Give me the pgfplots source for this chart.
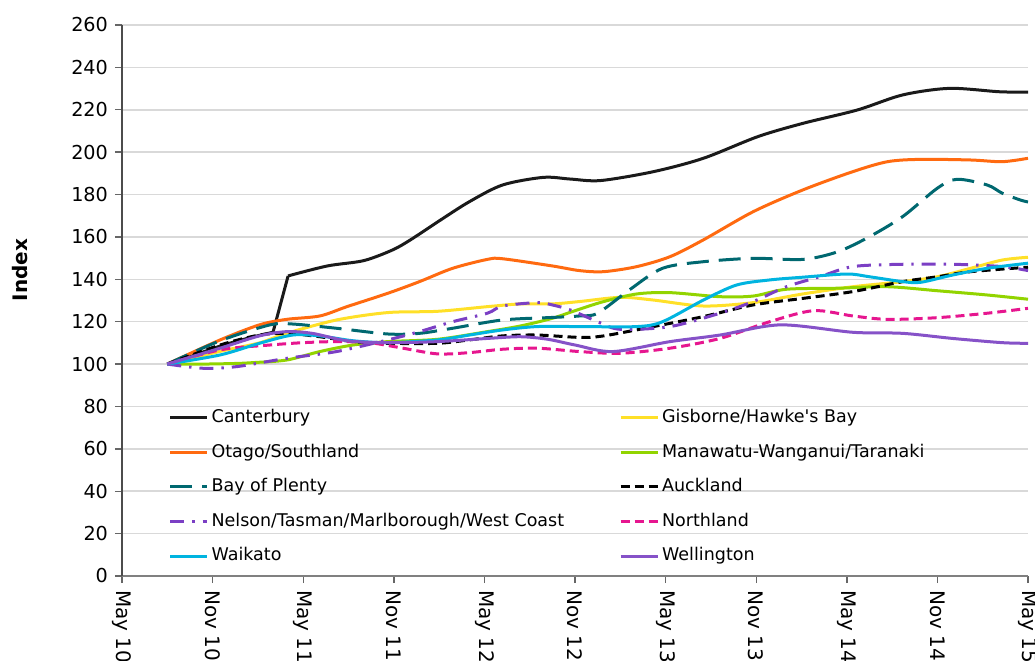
\documentclass[border=0pt]{standalone}
\usepackage{fontspec}
\setmainfont{DejaVu Sans}
\usepackage{pgfplots}
\pgfplotsset{compat=1.18}
\definecolor{cCant}{HTML}{1A1A1A}
\definecolor{cGis}{HTML}{FFE028}
\definecolor{cOta}{HTML}{FF6A10}
\definecolor{cMan}{HTML}{92D400}
\definecolor{cBop}{HTML}{006870}
\definecolor{cAuck}{HTML}{000000}
\definecolor{cNel}{HTML}{7B3FC4}
\definecolor{cNor}{HTML}{E6168F}
\definecolor{cWai}{HTML}{00B4E0}
\definecolor{cWel}{HTML}{8652C8}
\begin{document}
\begin{tikzpicture}
\begin{axis}[
  name=ax,
  at={(0pt,0pt)}, anchor=south west,
  scale only axis,
  width=453pt, height=275.5pt,
  xmin=0, xmax=60, ymin=0, ymax=260,
  xtick={0,6,...,60},
  xticklabels={May 10,Nov 10,May 11,Nov 11,May 12,Nov 12,May 13,Nov 13,May 14,Nov 14,May 15},
  ytick={0,20,...,260},
  /pgf/number format/assume math mode=true,
  ticklabel style={font=\fontsize{9.6}{11}\selectfont, text=black},
  xticklabel style={rotate=-90, anchor=west, font=\fontsize{10}{12}\selectfont},
  axis x line*=bottom, axis y line*=left,
  x axis line style={black!50, line width=1pt, -},
  y axis line style={black!70, line width=0.7pt, -},
  tick align=outside,
  major tick length=3.5pt,
  every tick/.style={black!60, line width=0.7pt},
  ymajorgrids,
  major grid style={black!15, line width=0.8pt},
  ylabel={\textbf{Index}},
  ylabel style={font=\fontsize{10}{12}\selectfont, at={(axis description cs:-0.1126,0.555)}, anchor=center, rotate=0},
  legend columns=2,
  legend cell align=left,
  legend image code/.code={\draw[#1] (0pt,0pt) -- (18.5pt,0pt);},
  legend style={draw=none, fill=none, at={(0.051,0.303)}, anchor=north west,
    font=\fontsize{8.75}{10}\selectfont, inner sep=0pt, row sep=9pt,
    nodes={inner sep=0pt, text height=6.5pt, text depth=1.8pt},
    /tikz/every odd column/.append style={column sep=1.5pt},
    /tikz/every even column/.append style={column sep=27.5pt}},
  every axis plot/.append style={line width=1.5pt, line join=round},
]
% Canterbury (three pieces: smooth, jump, smooth)
\addplot[cCant, smooth] coordinates {(3,100)(4.5,103.5)(6.5,108.5)(8.5,112.5)(10,115)};
\addlegendentry{Canterbury}
\addplot[cCant, forget plot] coordinates {(10,115)(11,141.6)};
\addplot[cCant, smooth, forget plot] coordinates {(11,141.6)(13.6,146.3)(16,148.8)(17.9,153.8)(19.1,158.6)(21.1,168)(23,176.6)(25.2,184.5)(27.9,188.1)(29.7,187.3)(31.7,186.6)(35.2,190.8)(38.5,197.1)(42.1,207.3)(45.1,213.6)(48.7,219.9)(51.7,227)(54.8,230.1)(58.1,228.5)(60,228.3)};
% Gisborne/Hawke's Bay
\addplot[cGis, smooth] coordinates {(3,100)(6.5,106)(9.1,110)(10.9,114.5)(14.2,120.8)(17.6,124.3)(20.9,124.9)(24.2,127.1)(26.4,128.4)(28.5,128.4)(30.3,129.5)(33,131.5)(35.2,130.2)(38.5,127.4)(41.8,129)(45.1,133.1)(48.4,136.5)(51.7,138.9)(54,141.2)(56.2,145.2)(58.3,149.1)(60,150.4)};
\addlegendentry{Gisborne/Hawke\textquotesingle s Bay}
% Otago/Southland
\addplot[cOta, smooth] coordinates {(3,100)(6.5,111.4)(9.1,118.5)(10.9,121.1)(13.1,122.7)(14.9,127.1)(17.6,133.4)(19.7,138.9)(21.9,145.2)(24.2,149.4)(25.2,149.7)(28.5,146.3)(30.3,144.1)(31.9,143.6)(34.1,146)(36.3,150.7)(38.5,158.6)(41.8,171.9)(45.1,182.2)(48.4,190.8)(50.7,195.5)(52.9,196.6)(56.2,196.3)(58.3,195.5)(60,197.1)};
\addlegendentry{Otago/Southland}
% Manawatu-Wanganui/Taranaki
\addplot[cMan, smooth] coordinates {(3,100)(5.4,100)(7.6,100.3)(8.7,100.7)(10.9,101.9)(13.1,105.9)(15.3,109)(17.6,110.6)(20.9,111.7)(24.2,115.3)(26.4,118)(28.5,121.6)(30,125.2)(31.9,129.5)(34.1,133.1)(36.3,133.7)(39.6,131.8)(41.8,132.1)(44,135.3)(47.4,135.8)(50.7,136.5)(54,134.6)(57.3,132.6)(60,130.6)};
\addlegendentry{Manawatu-Wanganui/Taranaki}
% Bay of Plenty
\addplot[cBop, smooth, dash pattern=on 11pt off 5pt] coordinates {(3,100)(6.5,111)(9.8,118.5)(11.3,118.9)(14.2,116.9)(17.6,114.2)(19.7,114.5)(21.9,116.9)(25.2,120.8)(28.5,122)(30.3,122.7)(31.5,124)(33.6,135)(35.8,145.2)(38.5,148.3)(41.8,149.9)(45.1,149.4)(47.4,153)(49.5,160.1)(51.7,169.6)(54,183)(55.3,187.2)(57.3,184.5)(58.3,180.6)(59.5,177.4)(60,176.5)};
\addlegendentry{Bay of Plenty}
% Auckland
\addplot[cAuck, smooth, dash pattern=on 4.5pt off 2.5pt] coordinates {(3,100)(6.5,109)(9.1,113.7)(10.9,114.5)(13.1,112.9)(15.3,110.6)(17.6,109.8)(20.9,109.8)(23,111.4)(25.2,113.3)(27.5,113.7)(30.3,112.6)(31.9,113.3)(35.2,117.7)(38.5,122.4)(41.8,127.9)(45.1,131)(48.4,134.2)(51.7,138.9)(54,141.2)(56.2,143.6)(60,145.7)};
\addlegendentry{Auckland}
% Nelson/Tasman/Marlborough/West Coast
\addplot[cNel, smooth, dash pattern=on 7pt off 4pt on 1.2pt off 4pt] coordinates {(3,100)(5.4,98)(7.6,98.8)(10.9,102.7)(14.2,105.9)(17.6,111.4)(19.7,115.3)(21.9,120)(24.2,124)(25.2,127.4)(27.5,129)(28.5,127.9)(29.7,125.5)(31.5,120)(33,116.4)(36.3,117.7)(39.6,124)(41.8,129.5)(44,136.5)(46.2,141.2)(48.4,146)(51.7,147.1)(55,147.1)(58.3,146)(60,144.1)};
\addlegendentry{Nelson/Tasman/Marlborough/West Coast}
% Northland
\addplot[cNor, smooth, dash pattern=on 4.5pt off 2.5pt] coordinates {(3,100)(6.5,106.7)(9.8,109)(12,110.1)(14.2,110.6)(16.4,110.1)(18.6,107.5)(20.9,104.8)(23,105.4)(25.2,107)(27.5,107.5)(30.3,105.9)(33,105.1)(36.3,107.5)(39.6,112.1)(42.9,120)(45.8,125.2)(48.4,122.7)(50.7,121.1)(54,121.9)(57.3,124)(60,126.3)};
\addlegendentry{Northland}
% Waikato
\addplot[cWai, smooth] coordinates {(3,100)(6.5,104.3)(9.1,109.8)(11.3,113.7)(13.1,113.3)(15.3,111)(17.6,110.1)(20.9,111.4)(23,113.7)(25.2,116.1)(27.5,117.7)(30.3,117.7)(34.1,117.7)(35.8,120)(38.5,130.2)(40.7,137.3)(42.9,139.7)(45.1,141)(48,142.5)(49.5,141.2)(51.7,138.9)(52.9,138.6)(55,142)(57.3,145.2)(60,147.6)};
\addlegendentry{Waikato}
% Wellington
\addplot[cWel, smooth] coordinates {(3,100)(6.5,107.5)(9.1,113.3)(10.9,115.3)(12.6,114.5)(14.9,111)(17.6,110.1)(20.9,110.6)(24.2,112.1)(26.4,112.9)(28.2,111.7)(30,109)(32.5,105.9)(36.3,110.6)(39.6,113.7)(43.6,118.5)(48.4,115)(51.7,114.5)(55,112.1)(58.3,110.1)(60,109.8)};
\addlegendentry{Wellington}
\end{axis}
\pgfresetboundingbox
\useasboundingbox ([shift={(-61pt,-42.5pt)}]ax.south west) rectangle ([shift={(3.5pt,12.5pt)}]ax.north east);
\end{tikzpicture}
\end{document}
